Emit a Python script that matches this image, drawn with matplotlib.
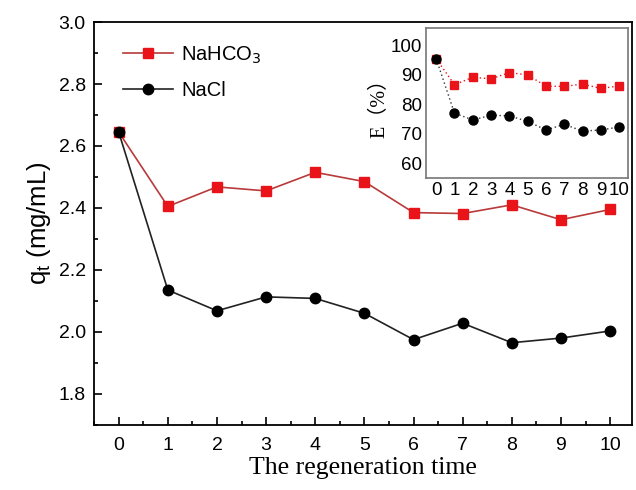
import matplotlib
matplotlib.use("Agg")
import matplotlib.pyplot as plt
from matplotlib.ticker import MultipleLocator

# regeneration cycles
cycles = [0, 1, 2, 3, 4, 5, 6, 7, 8, 9, 10]

# adsorption capacity q_t (mg/mL)
q_nahco3 = [2.645, 2.405, 2.468, 2.455, 2.515, 2.485, 2.385, 2.382, 2.410, 2.362, 2.395]
q_nahco3_err = [0.008, 0.008, 0.008, 0.008, 0.012, 0.008, 0.015, 0.015, 0.008, 0.010, 0.008]
q_nacl = [2.645, 2.135, 2.068, 2.113, 2.108, 2.060, 1.975, 2.028, 1.965, 1.980, 2.003]
q_nacl_err = [0.008, 0.008, 0.008, 0.008, 0.008, 0.008, 0.008, 0.008, 0.012, 0.010, 0.008]

# efficiency E (%)
e_nahco3 = [95.5, 86.7, 89.2, 88.7, 90.8, 90.0, 86.2, 86.1, 86.9, 85.4, 86.3]
e_nacl = [95.5, 77.0, 74.7, 76.3, 76.1, 74.2, 71.3, 73.2, 70.9, 71.3, 72.3]

red = "#e8141a"
dark_red = "#b83a3a"

plt.rcParams["font.family"] = ["Liberation Sans", "DejaVu Sans"]

fig = plt.figure(figsize=(6.36, 4.9), dpi=100)
ax = fig.add_axes([0.148, 0.133, 0.846, 0.822])

eb1 = ax.errorbar(cycles, q_nahco3, yerr=q_nahco3_err, color=dark_red, lw=1.2,
                  marker="s", ms=7, mfc=red, mec=red, ecolor="#888888", capsize=0,
                  zorder=3)
eb2 = ax.errorbar(cycles, q_nacl, yerr=q_nacl_err, color="#222222", lw=1.2,
                  marker="o", ms=7.5, mfc="black", mec="black", ecolor="#888888", capsize=0,
                  zorder=4)

ax.set_xlim(-0.5, 10.45)
ax.set_ylim(1.7, 3.0)
ax.set_xticks(cycles)
ax.xaxis.set_minor_locator(MultipleLocator(0.5))
ax.set_yticks([1.8, 2.0, 2.2, 2.4, 2.6, 2.8, 3.0])
ax.yaxis.set_minor_locator(MultipleLocator(0.1))
ax.tick_params(which="both", direction="in", labelsize=14, width=1.2)
ax.tick_params(which="major", length=6)
ax.tick_params(which="minor", length=3)
ax.tick_params(axis="x", pad=9)
ax.tick_params(axis="y", pad=6)
for s in ax.spines.values():
    s.set_linewidth(1.3)

ax.set_xlabel("The regeneration time", family="Liberation Serif", fontsize=18.5, labelpad=2)
ax.set_ylabel("q$_\\mathregular{t}$ (mg/mL)", fontsize=18.5, labelpad=4)

# legend without the error bar glyph
ax.legend([eb1[0], eb2[0]], ["NaHCO$_3$", "NaCl"], loc="upper left",
          bbox_to_anchor=(0.02, 0.99), frameon=False,
          fontsize=14.5, handlelength=2.5, handletextpad=0.4, labelspacing=0.75)

# inset
ins = fig.add_axes([0.670, 0.637, 0.318, 0.306])
ins.plot(cycles, e_nahco3, color=red, ls=(0, (1, 2)), lw=1,
         marker="s", ms=6, mfc=red, mec=red)
ins.plot(cycles, e_nacl, color="#333333", ls=(0, (1, 2)), lw=1,
         marker="o", ms=6.5, mfc="black", mec="black")
ins.set_xlim(-0.55, 10.5)
ins.set_ylim(55, 106)
ins.set_xticks(cycles)
ins.set_yticks([60, 70, 80, 90, 100])
ins.tick_params(direction="in", length=0, labelsize=13.5, pad=3)
for s in ins.spines.values():
    s.set_color("#777777")
    s.set_linewidth(1.2)
ins.set_ylabel("E（%）", family=["Liberation Serif", "Noto Sans CJK SC"], fontsize=14.5, labelpad=1)

fig.savefig("out.png", dpi=100)
